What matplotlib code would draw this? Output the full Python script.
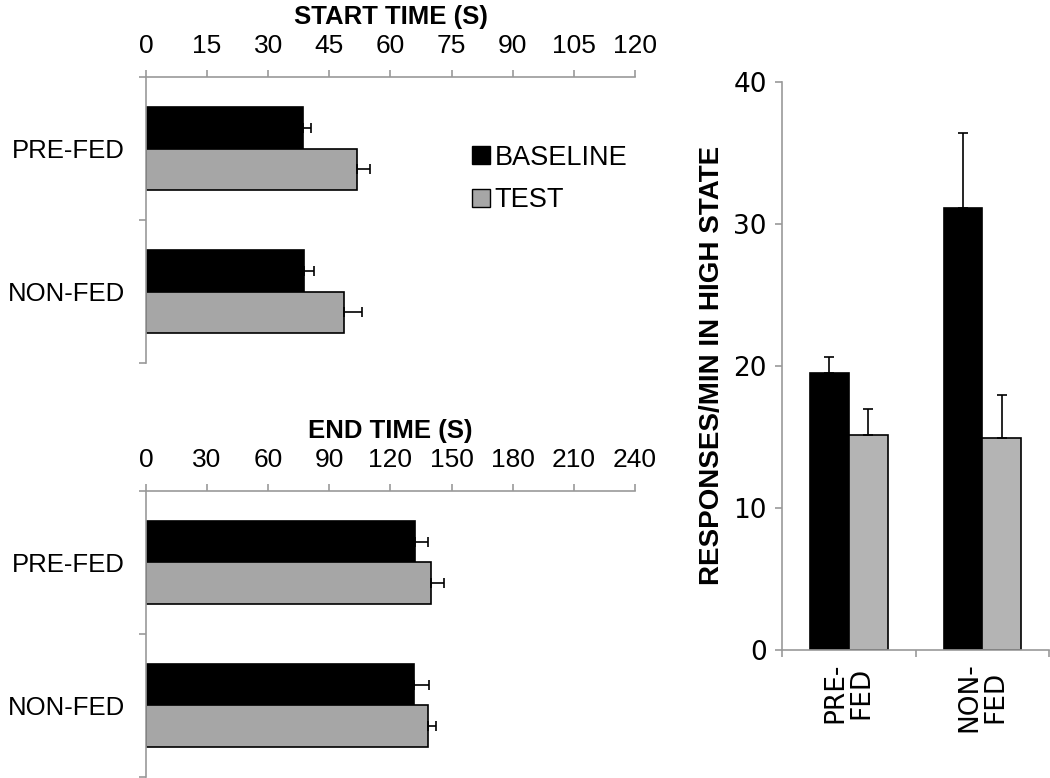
import numpy as np
import matplotlib
matplotlib.use('Agg')
import matplotlib.pyplot as plt
from matplotlib.lines import Line2D

plt.rcParams['font.family'] = ['Liberation Sans', 'DejaVu Sans']

groups = ['PRE-FED', 'NON-FED']
group_ticks = ['PRE-\nFED', 'NON-\nFED']
series = ['BASELINE', 'TEST']

start_base = [38.6, 38.9]
start_base_err = [1.9, 2.4]
start_test = [51.9, 48.7]
start_test_err = [3.1, 4.2]

end_base = [132.1, 131.5]
end_base_err = [6.2, 7.6]
end_test = [139.8, 138.3]
end_test_err = [6.6, 4.3]

resp_base = [19.5, 31.1]
resp_base_err = [1.1, 5.3]
resp_test = [15.1, 14.9]
resp_test_err = [1.85, 3.05]

start_ticks = [0, 15, 30, 45, 60, 75, 90, 105, 120]
end_ticks = [0, 30, 60, 90, 120, 150, 180, 210, 240]
resp_ticks = [0, 10, 20, 30, 40]

spine_col = '#999999'
fig = plt.figure(figsize=(10.5, 7.78), dpi=100)


def hpanel(rect, base, base_err, test, test_err, ticks, title, legend=False):
    ax = fig.add_axes(rect)
    pos = np.arange(len(groups)) + 0.5
    w = 0.29
    ax.barh(pos - w / 2, base, height=w, color='black', edgecolor='black', linewidth=1.2, zorder=2)
    ax.barh(pos + w / 2, test, height=w, color='#a6a6a6', edgecolor='black', linewidth=1.2, zorder=2)
    ax.errorbar(base, pos - w / 2, xerr=[np.zeros(len(base)), base_err], fmt='none',
                ecolor='black', elinewidth=1.2, capsize=3.6, capthick=1.2, zorder=3)
    ax.errorbar(test, pos + w / 2, xerr=[np.zeros(len(test)), test_err], fmt='none',
                ecolor='black', elinewidth=1.2, capsize=3.6, capthick=1.2, zorder=3)
    ax.set_xlim(ticks[0], ticks[-1])
    ax.set_ylim(len(groups), 0)
    ax.xaxis.tick_top()
    ax.set_xticks(ticks)
    ax.set_xticklabels([str(t) for t in ticks], fontsize=19)
    ax.set_yticks(np.arange(len(groups) + 1))
    ax.set_yticklabels([])
    ax.set_yticks(pos, minor=True)
    ax.set_yticklabels(groups, minor=True, fontsize=18.5)
    ax.tick_params(axis='y', which='minor', length=0, pad=15)
    ax.tick_params(axis='both', which='major', length=5, color=spine_col, width=1.2)
    ax.tick_params(axis='x', pad=9)
    for s in ['right', 'bottom']:
        ax.spines[s].set_visible(False)
    for s in ['top', 'left']:
        ax.spines[s].set_color(spine_col)
        ax.spines[s].set_linewidth(1.2)
    ax.set_title(title, fontsize=18.5, fontweight='bold', pad=38)
    if legend:
        handles = [Line2D([], [], marker='s', linestyle='none', markersize=13,
                          markerfacecolor='black', markeredgecolor='black'),
                   Line2D([], [], marker='s', linestyle='none', markersize=13,
                          markerfacecolor='#a6a6a6', markeredgecolor='black')]
        ax.legend(handles, series, loc='upper left', bbox_to_anchor=(0.63, 0.81),
                  frameon=False, fontsize=19.5, handletextpad=0.0, labelspacing=0.6,
                  handlelength=1.0, borderpad=0)
    return ax


hpanel([0.139, 0.5334, 0.4657, 0.3676], start_base, start_base_err, start_test,
       start_test_err, start_ticks, 'START TIME (S)', legend=True)
hpanel([0.139, 0.0013, 0.4657, 0.3676], end_base, end_base_err, end_test,
       end_test_err, end_ticks, 'END TIME (S)')

# right panel
ax = fig.add_axes([0.7448, 0.1645, 0.2543, 0.7307])
pos = np.arange(len(groups)) + 0.5
w = 0.29
ax.bar(pos - w / 2, resp_base, width=w, color='black', edgecolor='black', linewidth=1.2, zorder=2)
ax.bar(pos + w / 2, resp_test, width=w, color='#b4b4b4', edgecolor='black', linewidth=1.2, zorder=2)
ax.errorbar(pos - w / 2, resp_base, yerr=[np.zeros(2), resp_base_err], fmt='none',
            ecolor='black', elinewidth=1.2, capsize=3.6, capthick=1.2, zorder=3)
ax.errorbar(pos + w / 2, resp_test, yerr=[np.zeros(2), resp_test_err], fmt='none',
            ecolor='black', elinewidth=1.2, capsize=3.6, capthick=1.2, zorder=3)
ax.set_xlim(0, len(groups))
ax.set_ylim(resp_ticks[0], resp_ticks[-1])
ax.set_yticks(resp_ticks)
ax.set_yticklabels([str(t) for t in resp_ticks], fontsize=19, family=['DejaVu Sans'])
ax.set_xticks(np.arange(len(groups) + 1))
ax.set_xticklabels([])
ax.set_xticks(pos, minor=True)
ax.set_xticklabels(group_ticks, minor=True, fontsize=19, rotation=90, linespacing=1.0,
                   family=['DejaVu Sans'])
ax.tick_params(axis='x', which='minor', length=0, pad=9)
ax.tick_params(axis='both', which='major', length=5, color=spine_col, width=1.2)
ax.tick_params(axis='y', pad=6)
for s in ['right', 'top']:
    ax.spines[s].set_visible(False)
for s in ['left', 'bottom']:
    ax.spines[s].set_color(spine_col)
    ax.spines[s].set_linewidth(1.2)
ax.set_ylabel('RESPONSES/MIN IN HIGH STATE', fontsize=20, fontweight='bold', labelpad=6)

fig.savefig('out.png', dpi=100)
